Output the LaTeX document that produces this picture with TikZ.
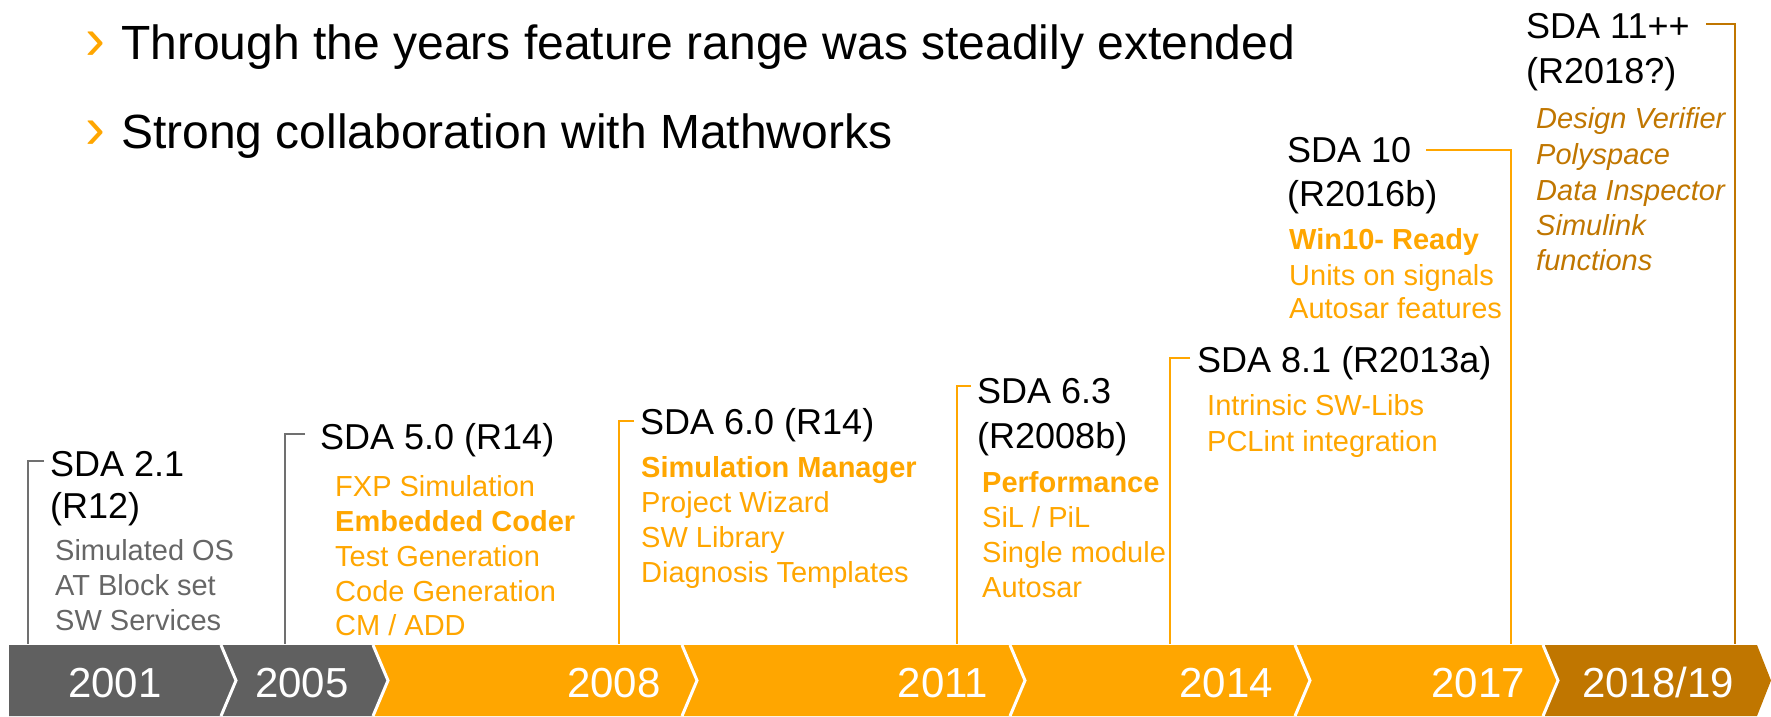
\documentclass[tikz,border=0pt]{standalone}
\usepackage{fontspec}
\setmainfont{Liberation Sans}
\definecolor{sdaorange}{RGB}{255,166,0}
\definecolor{sdabrown}{RGB}{192,118,0}
\definecolor{sdagrey}{RGB}{96,96,96}
\definecolor{featgrey}{RGB}{102,102,102}
\definecolor{linegrey}{RGB}{112,112,112}
\begin{document}
\begin{tikzpicture}[x=1pt,y=-1pt,
  title/.style={anchor=base west,inner sep=0pt,font=\fontsize{36}{43}\selectfont},
  feat/.style={anchor=base west,inner sep=0pt,text=sdaorange,font=\fontsize{29}{35}\selectfont},
  featbold/.style={feat,font=\fontsize{29}{35}\selectfont\bfseries},
  featgray/.style={feat,text=featgrey},
  featital/.style={feat,text=sdabrown,font=\fontsize{29}{35}\selectfont\itshape},
  year/.style={anchor=base,inner sep=0pt,text=white,font=\fontsize{42}{50}\selectfont},
  bullet/.style={anchor=base west,inner sep=0pt,font=\fontsize{48}{57}\selectfont},
  bracket/.style={line width=2pt}]
  \useasboundingbox (0,0) rectangle (1771,716);

  % time bar
  \fill[sdagrey] (9,645) -- (221,645) -- (236,680.5) -- (221,716) -- (9,716) -- cycle;
  \fill[sdagrey] (221,645) -- (373,645) -- (388,680.5) -- (373,716) -- (221,716) -- (236,680.5) -- cycle;
  \fill[sdaorange] (373,645) -- (682,645) -- (697,680.5) -- (682,716) -- (373,716) -- (388,680.5) -- cycle;
  \fill[sdaorange] (682,645) -- (1010,645) -- (1025,680.5) -- (1010,716) -- (682,716) -- (697,680.5) -- cycle;
  \fill[sdaorange] (1010,645) -- (1295,645) -- (1310,680.5) -- (1295,716) -- (1010,716) -- (1025,680.5) -- cycle;
  \fill[sdaorange] (1295,645) -- (1543,645) -- (1558,680.5) -- (1543,716) -- (1295,716) -- (1310,680.5) -- cycle;
  \fill[sdabrown] (1543,645) -- (1757,645) -- (1771,680.5) -- (1757,716) -- (1543,716) -- (1558,680.5) -- cycle;
  \draw[white,line width=3pt]
    (221,645) -- (236,680.5) -- (221,716)
    (373,645) -- (388,680.5) -- (373,716)
    (682,645) -- (697,680.5) -- (682,716)
    (1010,645) -- (1025,680.5) -- (1010,716)
    (1295,645) -- (1310,680.5) -- (1295,716)
    (1543,645) -- (1558,680.5) -- (1543,716);

  \node[year] (y2001) at (115,697) {2001};
  \node[year] (y2005) at (302,697) {2005};
  \node[year] (y2008) at (614,697) {2008};
  \node[year] (y2011) at (943,697) {2011};
  \node[year] (y2014) at (1226,697) {2014};
  \node[year] (y2017) at (1478,697) {2017};
  \node[year] (y2018) at (1658,697) {2018/19};

  % bullets
  \node[bullet,text=sdaorange,font=\fontsize{60}{70}\selectfont] (b1) at (85,59) {›};
  \node[bullet] (l1) at (121,59) {Through the years feature range was steadily extended};
  \node[bullet,text=sdaorange,font=\fontsize{60}{70}\selectfont] (b2) at (85,148) {›};
  \node[bullet] (l2) at (121,148) {Strong collaboration with Mathworks};

  % releases
  \node[title] (t21a) at (50,476) {SDA 2.1};
  \node[title] (t21b) at (50,518) {(R12)};
  \node[featgray] (f21a) at (55,560) {Simulated OS};
  \node[featgray] (f21b) at (55,595) {AT Block set};
  \node[featgray] (f21c) at (55,630) {SW Services};

  \node[title] (t50) at (320,449) {SDA 5.0 (R14)};
  \node[feat] (f50a) at (335,496) {FXP Simulation};
  \node[featbold] (f50b) at (335,531) {Embedded Coder};
  \node[feat] (f50c) at (335,566) {Test Generation};
  \node[feat] (f50d) at (335,601) {Code Generation};
  \node[feat] (f50e) at (335,635) {CM / ADD};

  \node[title] (t60) at (640,434) {SDA 6.0 (R14)};
  \node[featbold] (f60a) at (641,477) {Simulation Manager};
  \node[feat] (f60b) at (641,512) {Project Wizard};
  \node[feat] (f60c) at (641,547) {SW Library};
  \node[feat] (f60d) at (641,582) {Diagnosis Templates};

  \node[title] (t63a) at (977,403) {SDA 6.3};
  \node[title] (t63b) at (977,448) {(R2008b)};
  \node[featbold] (f63a) at (982,492) {Performance};
  \node[feat] (f63b) at (982,527) {SiL / PiL};
  \node[feat] (f63c) at (982,562) {Single module};
  \node[feat] (f63d) at (982,597) {Autosar};

  \node[title] (t81) at (1197,372) {SDA 8.1 (R2013a)};
  \node[feat] (f81a) at (1207,415) {Intrinsic SW-Libs};
  \node[feat] (f81b) at (1207,451) {PCLint integration};

  \node[title] (t10a) at (1287,162) {SDA 10};
  \node[title] (t10b) at (1287,206) {(R2016b)};
  \node[featbold] (f10a) at (1289,249) {Win10- Ready};
  \node[feat] (f10b) at (1289,285) {Units on signals};
  \node[feat] (f10c) at (1289,318) {Autosar features};

  \node[title] (t11a) at (1526,38) {SDA 11++};
  \node[title] (t11b) at (1526,83) {(R2018?)};
  \node[featital] (f11a) at (1536,128) {Design Verifier};
  \node[featital] (f11b) at (1536,164) {Polyspace};
  \node[featital] (f11c) at (1536,200) {Data Inspector};
  \node[featital] (f11d) at (1536,235) {Simulink};
  \node[featital] (f11e) at (1536,270) {functions};

  % brackets down to the bar
  \coordinate (k21) at (44,461);   \coordinate (p21) at (28,644);
  \coordinate (k50) at (305,434);  \coordinate (p50) at (285,644);
  \coordinate (k60) at (634,421);  \coordinate (p60) at (619,644);
  \coordinate (k63) at (971,386);  \coordinate (p63) at (957,644);
  \coordinate (k81) at (1190,358); \coordinate (p81) at (1170,644);
  \coordinate (k10) at (1426,150); \coordinate (p10) at (1511,644);
  \coordinate (k11) at (1706,24);  \coordinate (p11) at (1735,644);
  \draw[bracket,linegrey] (k21) -| (p21);
  \draw[bracket,linegrey] (k50) -| (p50);
  \draw[bracket,sdaorange] (k60) -| (p60);
  \draw[bracket,sdaorange] (k63) -| (p63);
  \draw[bracket,sdaorange] (k81) -| (p81);
  \draw[bracket,sdaorange] (k10) -| (p10);
  \draw[bracket,sdabrown] (k11) -| (p11);
\end{tikzpicture}
\end{document}
